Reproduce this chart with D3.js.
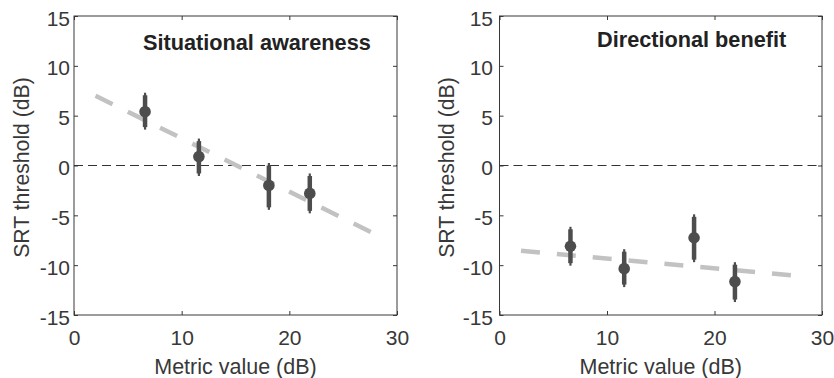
<!DOCTYPE html>
<html>
<head>
<meta charset="utf-8">
<script src="https://cdn.jsdelivr.net/npm/d3@7"></script>
<style>
  html, body { margin: 0; padding: 0; background: #fff; }
  svg { display: block; font-family: "Liberation Sans", Arial, Helvetica, sans-serif; }
</style>
</head>
<body>
<svg id="chart" width="834" height="378"></svg>
<script>
// ---- data ----
const metricValues = [6.6, 11.6, 18.1, 21.9];
const saMean = [5.4, 0.9, -2.0, -2.8];
const saLow  = [3.6, -1.05, -4.45, -4.8];
const saHigh = [7.3, 2.7, 0.25, -0.8];
const dbMean = [-8.1, -10.35, -7.25, -11.65];
const dbLow  = [-10.05, -12.2, -9.7, -13.7];
const dbHigh = [-6.15, -8.4, -4.9, -9.7];
const saTrendX = [2, 28];
const saTrendY = [7.0, -6.9];
const dbTrendX = [2, 28];
const dbTrendY = [-8.55, -11.1];
const xTicks = [0, 10, 20, 30];
const yTicks = [-15, -10, -5, 0, 5, 10, 15];
const panelTitles = ["Situational awareness", "Directional benefit"];
const xLabel = "Metric value (dB)";
const yLabel = "SRT threshold (dB)";

(function () {
const panels = [
  { title: panelTitles[0], mean: saMean, low: saLow, high: saHigh, tx: saTrendX, ty: saTrendY,
    left: 74, right: 397, titleX: 143, titleY: 50, yLabX: 29, yPad: 4 },
  { title: panelTitles[1], mean: dbMean, low: dbLow, high: dbHigh, tx: dbTrendX, ty: dbTrendY,
    left: 499.5, right: 822, titleX: 597, titleY: 46.5, yLabX: 454, yPad: 6.5 }
];

const plotTop = 16, plotBottom = 315;
const svg = d3.select("#chart");
const axisColor = "#383838";
const markColor = "#4d4d4d";
const fmt = d => String(d);

panels.forEach(p => {
  const x = d3.scaleLinear().domain([0, 30]).range([p.left, p.right]);
  const y = d3.scaleLinear().domain([-15, 15]).range([plotBottom, plotTop]);
  const g = svg.append("g");

  const styleAxis = sel => {
    sel.select(".domain").remove();
    sel.selectAll(".tick line").attr("stroke", axisColor);
    sel.selectAll(".tick text").attr("fill", axisColor).style("font-size", "21px")
       .style("font-family", "'Liberation Sans', Arial, sans-serif");
  };
  g.append("g").attr("transform", `translate(0,${plotBottom})`)
    .call(d3.axisBottom(x).tickValues(xTicks).tickSize(-4).tickPadding(15).tickFormat(fmt))
    .call(styleAxis);
  g.append("g").attr("transform", `translate(0,${plotTop})`)
    .call(d3.axisTop(x).tickValues(xTicks).tickSize(-4).tickFormat(""))
    .call(styleAxis);
  g.append("g").attr("transform", `translate(${p.left},0)`)
    .call(d3.axisLeft(y).tickValues(yTicks).tickSize(-4).tickPadding(p.yPad).tickFormat(fmt))
    .call(styleAxis)
    .call(sel => sel.selectAll(".tick text").attr("dy", "0.43em"));
  g.append("g").attr("transform", `translate(${p.right},0)`)
    .call(d3.axisRight(y).tickValues(yTicks).tickSize(-4).tickFormat(""))
    .call(styleAxis);

  g.append("rect")
    .attr("x", p.left).attr("y", plotTop)
    .attr("width", p.right - p.left).attr("height", plotBottom - plotTop)
    .attr("fill", "none").attr("stroke", axisColor).attr("stroke-width", 1);

  g.append("line")
    .attr("x1", x(0)).attr("x2", x(30)).attr("y1", y(0)).attr("y2", y(0))
    .attr("stroke", "#333").attr("stroke-width", 1.1).attr("stroke-dasharray", "9,5");

  const trend = p.tx.map((v, i) => [v, p.ty[i]]);
  g.append("path")
    .datum(trend)
    .attr("d", d3.line().x(d => x(d[0])).y(d => y(d[1])))
    .attr("fill", "none").attr("stroke", "#c2c2c2").attr("stroke-width", 4.5)
    .attr("stroke-dasharray", "19,17");

  const pts = metricValues.map((v, i) => ({ x: v, m: p.mean[i], lo: p.low[i], hi: p.high[i] }));
  g.selectAll(".thin").data(pts).enter().append("line")
    .attr("x1", d => x(d.x)).attr("x2", d => x(d.x))
    .attr("y1", d => y(d.hi)).attr("y2", d => y(d.lo))
    .attr("stroke", markColor).attr("stroke-width", 2.2);
  g.selectAll(".thick").data(pts).enter().append("line")
    .attr("x1", d => x(d.x)).attr("x2", d => x(d.x))
    .attr("y1", d => y(d.hi) + 2.5).attr("y2", d => y(d.lo) - 2.5)
    .attr("stroke", markColor).attr("stroke-width", 4.5);
  g.selectAll(".pt").data(pts).enter().append("circle")
    .attr("cx", d => x(d.x)).attr("cy", d => y(d.m)).attr("r", 5.8)
    .attr("fill", markColor);

  g.append("text")
    .attr("x", p.titleX).attr("y", p.titleY)
    .attr("fill", "#222").style("font-size", "21.7px").style("font-weight", "bold")
    .text(p.title);

  g.append("text")
    .attr("x", (p.left + p.right) / 2).attr("y", 374)
    .attr("text-anchor", "middle").attr("fill", axisColor).style("font-size", "21.5px")
    .text(xLabel);
  g.append("text")
    .attr("transform", `translate(${p.yLabX},${(plotTop + plotBottom) / 2 + 2}) rotate(-90)`)
    .attr("text-anchor", "middle").attr("fill", axisColor).style("font-size", "21.2px")
    .text(yLabel);
});
})();
</script>
</body>
</html>
